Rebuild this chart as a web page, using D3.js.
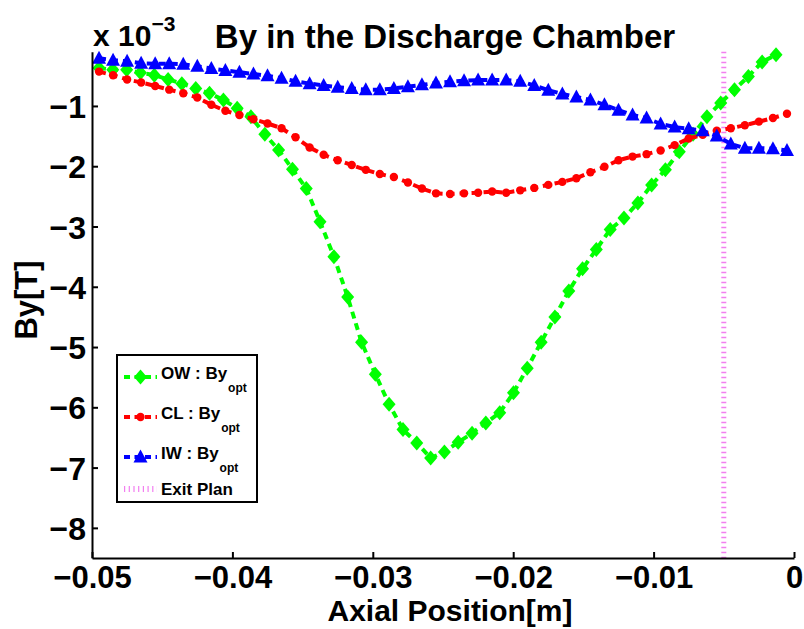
<!DOCTYPE html>
<html><head><meta charset="utf-8">
<script src="https://cdn.jsdelivr.net/npm/d3@7"></script>
<style>
html,body{margin:0;padding:0;background:#fff;}
svg text{font-family:"Liberation Sans",Arial,Helvetica,sans-serif;font-weight:bold;}
</style></head>
<body><svg id="c" width="804" height="629"></svg>
<script>
// Axial positions in mm
const posOW = [-49.5,-48.52,-47.53,-46.55,-45.56,-44.58,-43.6,-42.61,-41.63,-40.64,-39.66,-38.68,-37.69,-36.71,-35.72,-34.74,-33.76,-32.77,-31.79,-30.8,-29.82,-28.84,-27.85,-26.87,-25.88,-24.9,-23.92,-22.93,-21.95,-20.96,-19.98,-19.0,-18.01,-17.03,-16.04,-15.06,-14.08,-13.09,-12.11,-11.12,-10.14,-9.16,-8.17,-7.19,-6.2,-5.22,-4.24,-3.25,-2.27,-1.28];
const posCL = [-49.5,-48.5,-47.5,-46.5,-45.5,-44.5,-43.5,-42.5,-41.5,-40.5,-39.5,-38.5,-37.5,-36.5,-35.5,-34.5,-33.5,-32.5,-31.5,-30.5,-29.5,-28.5,-27.5,-26.5,-25.5,-24.5,-23.5,-22.5,-21.5,-20.5,-19.5,-18.5,-17.5,-16.5,-15.5,-14.5,-13.5,-12.5,-11.5,-10.5,-9.5,-8.5,-7.5,-6.5,-5.5,-4.5,-3.5,-2.5,-1.5,-0.5];
const posIW = [-49.5,-48.5,-47.5,-46.5,-45.5,-44.5,-43.5,-42.5,-41.5,-40.5,-39.5,-38.5,-37.5,-36.5,-35.5,-34.5,-33.5,-32.5,-31.5,-30.5,-29.5,-28.5,-27.5,-26.5,-25.5,-24.5,-23.5,-22.5,-21.5,-20.5,-19.5,-18.5,-17.5,-16.5,-15.5,-14.5,-13.5,-12.5,-11.5,-10.5,-9.5,-8.5,-7.5,-6.5,-5.5,-4.5,-3.5,-2.5,-1.5,-0.5];
// By values in units of 1e-3 T
const byOW = [-0.37,-0.40,-0.40,-0.45,-0.49,-0.56,-0.63,-0.71,-0.79,-0.90,-1.04,-1.18,-1.47,-1.73,-2.05,-2.37,-2.92,-3.50,-4.17,-4.92,-5.45,-5.95,-6.37,-6.59,-6.84,-6.74,-6.58,-6.43,-6.26,-6.09,-5.76,-5.35,-4.92,-4.50,-4.07,-3.70,-3.38,-3.05,-2.86,-2.61,-2.31,-2.06,-1.76,-1.47,-1.18,-0.95,-0.73,-0.51,-0.27,-0.15];
const byCL = [-0.43,-0.49,-0.56,-0.61,-0.67,-0.73,-0.79,-0.86,-0.98,-1.08,-1.15,-1.22,-1.29,-1.37,-1.52,-1.69,-1.81,-1.90,-1.98,-2.06,-2.13,-2.18,-2.27,-2.37,-2.45,-2.46,-2.45,-2.44,-2.42,-2.44,-2.40,-2.36,-2.31,-2.26,-2.20,-2.10,-2.01,-1.90,-1.84,-1.80,-1.74,-1.65,-1.54,-1.48,-1.41,-1.37,-1.32,-1.26,-1.20,-1.13];
const byIW = [-0.21,-0.24,-0.26,-0.29,-0.30,-0.30,-0.31,-0.34,-0.38,-0.41,-0.44,-0.47,-0.50,-0.54,-0.59,-0.63,-0.66,-0.69,-0.71,-0.73,-0.73,-0.71,-0.68,-0.65,-0.62,-0.60,-0.58,-0.57,-0.57,-0.57,-0.59,-0.66,-0.74,-0.80,-0.85,-0.90,-0.98,-1.07,-1.15,-1.20,-1.30,-1.35,-1.38,-1.41,-1.50,-1.63,-1.70,-1.70,-1.71,-1.74];
const exitPlane = -0.005;
const xTicks = [-0.05,-0.04,-0.03,-0.02,-0.01,0];
const xTickLabels = ["\u22120.05","\u22120.04","\u22120.03","\u22120.02","\u22120.01","0"];
const yTicks = [-8,-7,-6,-5,-4,-3,-2,-1];
const legendNames = ["OW : By","CL : By","IW : By"];

const svg = d3.select("#c");
const x = d3.scaleLinear().domain([-0.05,0]).range([92,794]);
const y = d3.scaleLinear().domain([-8.5,-0.1]).range([558,51.7]);

const series = [
  {pos:posOW, val:byOW, color:"#00ff00", shape:"diamond"},
  {pos:posCL, val:byCL, color:"#ff0000", shape:"circle"},
  {pos:posIW, val:byIW, color:"#0000ff", shape:"triangle"}
];

function marker(g, shape, color, cx, cy){
  if(shape==="diamond"){
    g.append("path").attr("d",`M${cx},${cy-7.5}L${cx+6.5},${cy}L${cx},${cy+7.5}L${cx-6.5},${cy}Z`).attr("fill",color);
  } else if(shape==="circle"){
    g.append("circle").attr("cx",cx).attr("cy",cy).attr("r",4.2).attr("fill",color);
  } else {
    g.append("path").attr("d",`M${cx},${cy-7.5}L${cx+7},${cy+5.5}L${cx-7},${cy+5.5}Z`).attr("fill",color);
  }
}

// exit plane
svg.append("line").attr("x1",x(exitPlane)).attr("x2",x(exitPlane)).attr("y1",y(-0.1)).attr("y2",y(-8.5))
  .attr("stroke","#f27ff0").attr("stroke-width",5).attr("stroke-dasharray","1.5,3.5");

const line = d3.line();
series.forEach(s=>{
  const pts = s.pos.map((p,i)=>[x(p/1000), y(s.val[i])]);
  svg.append("path").attr("d",line(pts)).attr("fill","none").attr("stroke",s.color)
    .attr("stroke-width",4).attr("stroke-dasharray","7,5");
  const g = svg.append("g");
  pts.forEach(p=>marker(g,s.shape,s.color,p[0],p[1]));
});

// axes
const xAxis = d3.axisBottom(x).tickValues(xTicks).tickFormat((d,i)=>xTickLabels[i]).tickSizeInner(-6).tickSizeOuter(0).tickPadding(8);
const gx = svg.append("g").attr("transform","translate(0,558)").call(xAxis);
const yAxis = d3.axisLeft(y).tickValues(yTicks).tickFormat(d=>d3.format("d")(d).replace("-","\u2212")).tickSizeInner(-6).tickSizeOuter(0).tickPadding(6);
const gy = svg.append("g").attr("transform","translate(92,0)").call(yAxis);
[gx,gy].forEach(g=>{
  g.select(".domain").attr("stroke","#000").attr("stroke-width",2);
  g.selectAll(".tick line").attr("stroke","#000").attr("stroke-width",2);
  g.selectAll(".tick text").attr("fill","#000").style("font-weight","bold").style("font-family","Liberation Sans, Arial, sans-serif");
});
gx.selectAll(".tick text").style("font-size","31px");
gy.selectAll(".tick text").style("font-size","32px").attr("dy","0.36em");

// title & multiplier
svg.append("text").attr("x",445).attr("y",48).attr("text-anchor","middle").style("font-size","33px").text("By in the Discharge Chamber");
const mt = svg.append("text").attr("x",93).attr("y",46).style("font-size","30px");
mt.append("tspan").text("x 10");
mt.append("tspan").attr("dy",-15).style("font-size","21px").text("\u22123");

// axis labels
svg.append("text").attr("x",450).attr("y",621).attr("text-anchor","middle").style("font-size","30px").text("Axial Position[m]");
svg.append("text").attr("transform","translate(37,300) rotate(-90)").attr("text-anchor","middle").style("font-size","31px").text("By[T]");

// legend
const lg = svg.append("g");
lg.append("rect").attr("x",117).attr("y",355).attr("width",140).attr("height",147).attr("fill","#fff").attr("stroke","#000").attr("stroke-width",2);
const rowsY = [377,417,457];
series.forEach((s,i)=>{
  lg.append("line").attr("x1",124).attr("x2",157).attr("y1",rowsY[i]).attr("y2",rowsY[i]).attr("stroke",s.color).attr("stroke-width",4).attr("stroke-dasharray","6,4.5");
  marker(lg,s.shape,s.color,140.5,rowsY[i]);
  const t = lg.append("text").attr("x",161).attr("y",rowsY[i]+2).style("font-size","17px");
  t.append("tspan").text(legendNames[i]);
  t.append("tspan").attr("dy",13).attr("dx",1).style("font-size","12px").text("opt");
});
lg.append("line").attr("x1",124).attr("x2",157).attr("y1",489).attr("y2",489).attr("stroke","#f27ff0").attr("stroke-width",6).attr("stroke-dasharray","1.2,3.5");
lg.append("text").attr("x",161).attr("y",495).style("font-size","17px").text("Exit Plan");
</script></body></html>
